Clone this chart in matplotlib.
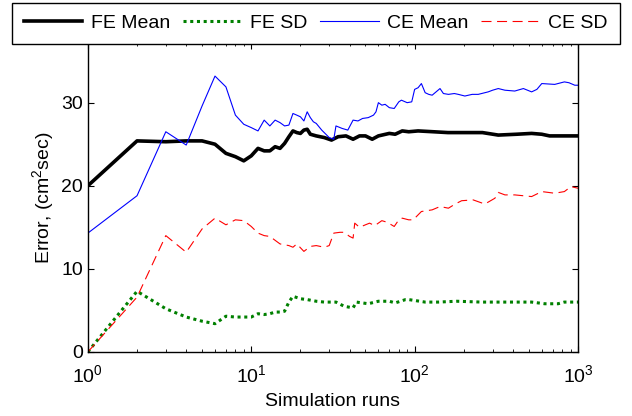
import matplotlib
matplotlib.use('Agg')
import matplotlib.pyplot as plt

plt.rcParams['font.family'] = ['Liberation Sans', 'DejaVu Sans']
plt.rcParams['mathtext.fontset'] = 'custom'
plt.rcParams['mathtext.rm'] = 'Liberation Sans'
plt.rcParams['mathtext.it'] = 'Liberation Sans:italic'

# FE mean (black)
fe_mean_runs = [1, 2, 3, 4, 5, 6, 7, 8, 9, 10, 11, 12, 13, 14, 15, 16, 17, 18, 19, 20,
                21, 22, 23, 25, 28, 31, 34, 38, 42, 46, 50, 55, 60, 70, 76, 84, 92,
                105, 130, 160, 200, 260, 325, 420, 520, 600, 670, 800, 1000]
fe_mean = [20.0, 25.4, 25.3, 25.4, 25.4, 25.0, 23.9, 23.5, 23.0, 23.6, 24.5, 24.2, 24.2,
           24.7, 24.5, 25.1, 25.9, 26.6, 26.4, 26.3, 26.7, 26.8, 26.2, 26.0, 25.8, 25.5,
           25.9, 26.0, 25.6, 26.0, 26.0, 25.6, 26.0, 26.3, 26.2, 26.6, 26.5, 26.6, 26.5,
           26.4, 26.4, 26.4, 26.1, 26.2, 26.3, 26.2, 26.0, 26.0, 26.0]

# FE SD (green dotted)
fe_sd_runs = [1, 2, 3, 4, 5, 6, 7, 8, 9, 10, 11, 12, 13, 14, 15, 16, 17, 18, 20, 22, 25,
              28, 33, 37, 42, 44, 52, 60, 70, 76, 88, 92, 116, 139, 181, 258, 325, 520,
              625, 755, 825, 1000]
fe_sd = [0.0, 7.3, 5.2, 4.2, 3.7, 3.4, 4.3, 4.2, 4.2, 4.2, 4.6, 4.5, 4.6, 4.8, 4.8, 4.9,
         6.0, 6.7, 6.4, 6.3, 6.1, 6.0, 6.0, 5.5, 5.3, 6.0, 5.8, 6.1, 6.1, 5.9, 6.3, 6.3,
         6.0, 6.0, 6.1, 6.0, 6.0, 6.0, 5.8, 5.8, 6.0, 6.0]

# CE mean (blue)
ce_mean_runs = [1, 2, 3, 4, 5, 6, 7, 8, 9, 10, 11, 12, 13, 14, 15, 16, 17, 18, 19, 20,
                21, 22, 23, 24, 25, 27, 30, 32, 33, 36, 39, 42, 45, 48, 52, 56, 58, 60,
                63, 66, 70, 75, 80, 83, 90, 96, 100, 105, 110, 116, 122, 128, 143, 150,
                161, 175, 185, 203, 225, 245, 282, 300, 325, 357, 410, 463, 520, 560,
                600, 720, 825, 880, 955, 1000]
ce_mean = [14.3, 18.8, 26.5, 24.9, 29.6, 33.2, 31.9, 28.5, 27.4, 27.0, 26.6, 27.9, 27.2,
           27.9, 27.6, 27.2, 27.3, 28.7, 28.5, 28.3, 27.8, 28.9, 28.2, 27.7, 27.5, 26.7,
           25.8, 25.6, 27.2, 26.9, 26.7, 27.9, 27.8, 28.1, 28.2, 28.5, 28.9, 30.0, 29.7,
           29.8, 29.4, 29.3, 30.1, 30.3, 30.0, 30.1, 31.6, 31.8, 32.3, 31.2, 31.0, 30.9,
           31.7, 31.1, 31.0, 31.1, 31.0, 30.8, 31.0, 31.0, 31.3, 31.5, 31.7, 31.5, 31.4,
           31.7, 31.3, 31.6, 32.3, 32.2, 32.5, 32.4, 32.1, 32.1]

# CE SD (red dashed)
ce_sd_runs = [1, 2, 3, 4, 5, 6, 7, 8, 9, 10, 11, 12, 13, 15, 17, 18, 19, 21, 23, 25, 28,
              30, 32, 35, 37, 40, 42, 43, 46, 50, 53, 57, 63, 68, 75, 80, 84, 92, 98,
              110, 128, 143, 161, 177, 194, 228, 269, 310, 325, 357, 410, 520, 600, 720,
              825, 905, 1000]
ce_sd = [0.0, 6.6, 14.0, 12.0, 14.8, 16.1, 15.3, 15.9, 15.8, 15.1, 14.3, 14.0, 13.9, 13.0,
         12.8, 12.6, 13.0, 12.1, 12.7, 12.8, 12.6, 12.8, 14.3, 14.4, 14.4, 13.9, 13.7,
         15.5, 15.0, 15.3, 15.5, 15.2, 15.8, 15.6, 15.1, 15.9, 16.1, 15.9, 15.9, 16.9,
         17.1, 17.5, 17.3, 17.8, 18.2, 18.3, 17.8, 18.5, 19.2, 18.9, 18.9, 18.7, 19.3,
         19.1, 19.3, 19.9, 19.7]

fig = plt.figure(figsize=(6.32, 4.16), dpi=100)
ax = fig.add_axes([0.139, 0.154, 0.9146 - 0.139, 0.897 - 0.154])

ax.plot(fe_mean_runs, fe_mean, color='black', lw=2.6, label='FE Mean')
ax.plot(fe_sd_runs, fe_sd, color='#008000', lw=2.2, linestyle=(0, (1, 1.2)), label='FE SD')
ax.plot(ce_mean_runs, ce_mean, color='#0000ff', lw=0.8, label='CE Mean')
ax.plot(ce_sd_runs, ce_sd, color='#ff0000', lw=0.8, linestyle=(0, (9, 5)), label='CE SD')

ax.set_xscale('log')
ax.set_xlim(1, 1000)
ax.set_ylim(0, 37.2)
ax.set_yticks([0, 10, 20, 30])
ax.tick_params(which='both', direction='in', top=True, right=True, labelsize=14)
ax.tick_params(which='major', length=4.5, width=0.8)
ax.tick_params(which='minor', length=2.5, width=0.6)
ax.tick_params(axis='x', pad=9)
for s in ax.spines.values():
    s.set_linewidth(1.0)

ax.set_xlabel('Simulation runs', fontsize=14, labelpad=5)
ax.set_ylabel('Error, (cm$^2$sec)', fontsize=14, labelpad=4)

leg = fig.legend(loc='lower center', bbox_to_anchor=(0.5, 0.895),
                 ncol=4, borderaxespad=0, fontsize=14,
                 handlelength=3.0, handletextpad=0.45, columnspacing=0.65,
                 fancybox=False, framealpha=1, edgecolor='black', borderpad=0.6)
leg.get_frame().set_linewidth(1.0)

fig.savefig('out.png', dpi=100)
